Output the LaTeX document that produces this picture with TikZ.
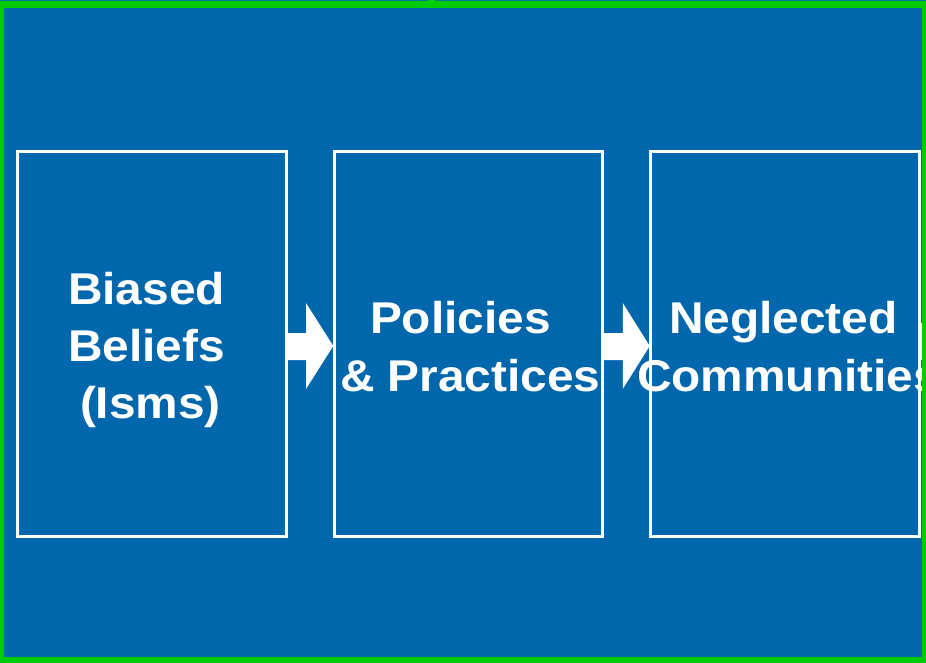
\documentclass[tikz,border=0pt]{standalone}
\usepackage{fontspec}
\setmainfont[FakeStretch=1.075]{Liberation Sans}
\usetikzlibrary{calc}
\definecolor{bgblue}{RGB}{0,103,173}
\definecolor{frgreen}{RGB}{0,204,0}
\begin{document}
\begin{tikzpicture}[x=1pt,y=-1pt,
  box/.style={draw=white,line width=3pt,minimum width=268.5pt,minimum height=384pt,inner sep=0pt,outer sep=0pt},
  lbl/.style={text=white,font=\fontsize{44.5}{57}\selectfont\bfseries,anchor=base west,inner sep=0pt,outer sep=0pt}]
\useasboundingbox (0,0) rectangle (926,663);
\fill[bgblue] (0,0) rectangle (926,663);
% boxes
\node[box] (b1) at (151.75,344) {};
\node[box] (b2) at (468.5,344) {};
\node[box] (b3) at (785,344) {};
% block arrows
\fill[white] ($(b1.east)+(0,-11)$) -- ++(20,0) -- ++(0,-30) -- ($(b2.west)+(-1,2)$)
  -- ($(b1.east)+(20,45)$) -- ++(0,-29) -- ($(b1.east)+(0,16)$) -- cycle;
\fill[white] ($(b2.east)+(0,-11)$) -- ++(20,0) -- ++(0,-30) -- ($(b3.west)+(-1,2)$)
  -- ($(b2.east)+(20,45)$) -- ++(0,-29) -- ($(b2.east)+(0,16)$) -- cycle;
\coordinate (rightedge) at (926,344);
\fill[white] ($(b3.east)+(0,-21)$) -- ($(rightedge)+(0,-21)$) -- ($(rightedge)+(0,16)$) -- ($(b3.east)+(0,16)$) -- cycle;
\node[box] at (b1) {};
\node[box] at (b2) {};
\node[box] at (b3) {};
% texts
\node[lbl] (t1a) at (68,304) {Biased};
\node[lbl] (t1b) at (68,361) {Beliefs};
\node[lbl] (t1c) at (80,418) {(Isms)};
\node[lbl] (t2a) at (370,333) {Policies};
\node[lbl] (t2b) at (340,391) {\& Practices};
\node[lbl] (t3a) at (669,333) {Neglected};
\node[lbl] (t3b) at (637,391) {Communities};
% green frame
\fill[frgreen,even odd rule] (0,1) rectangle (926,663) (4,8) rectangle (922,657);
\fill[frgreen] (428,0) rectangle (435,1);
\end{tikzpicture}
\end{document}
